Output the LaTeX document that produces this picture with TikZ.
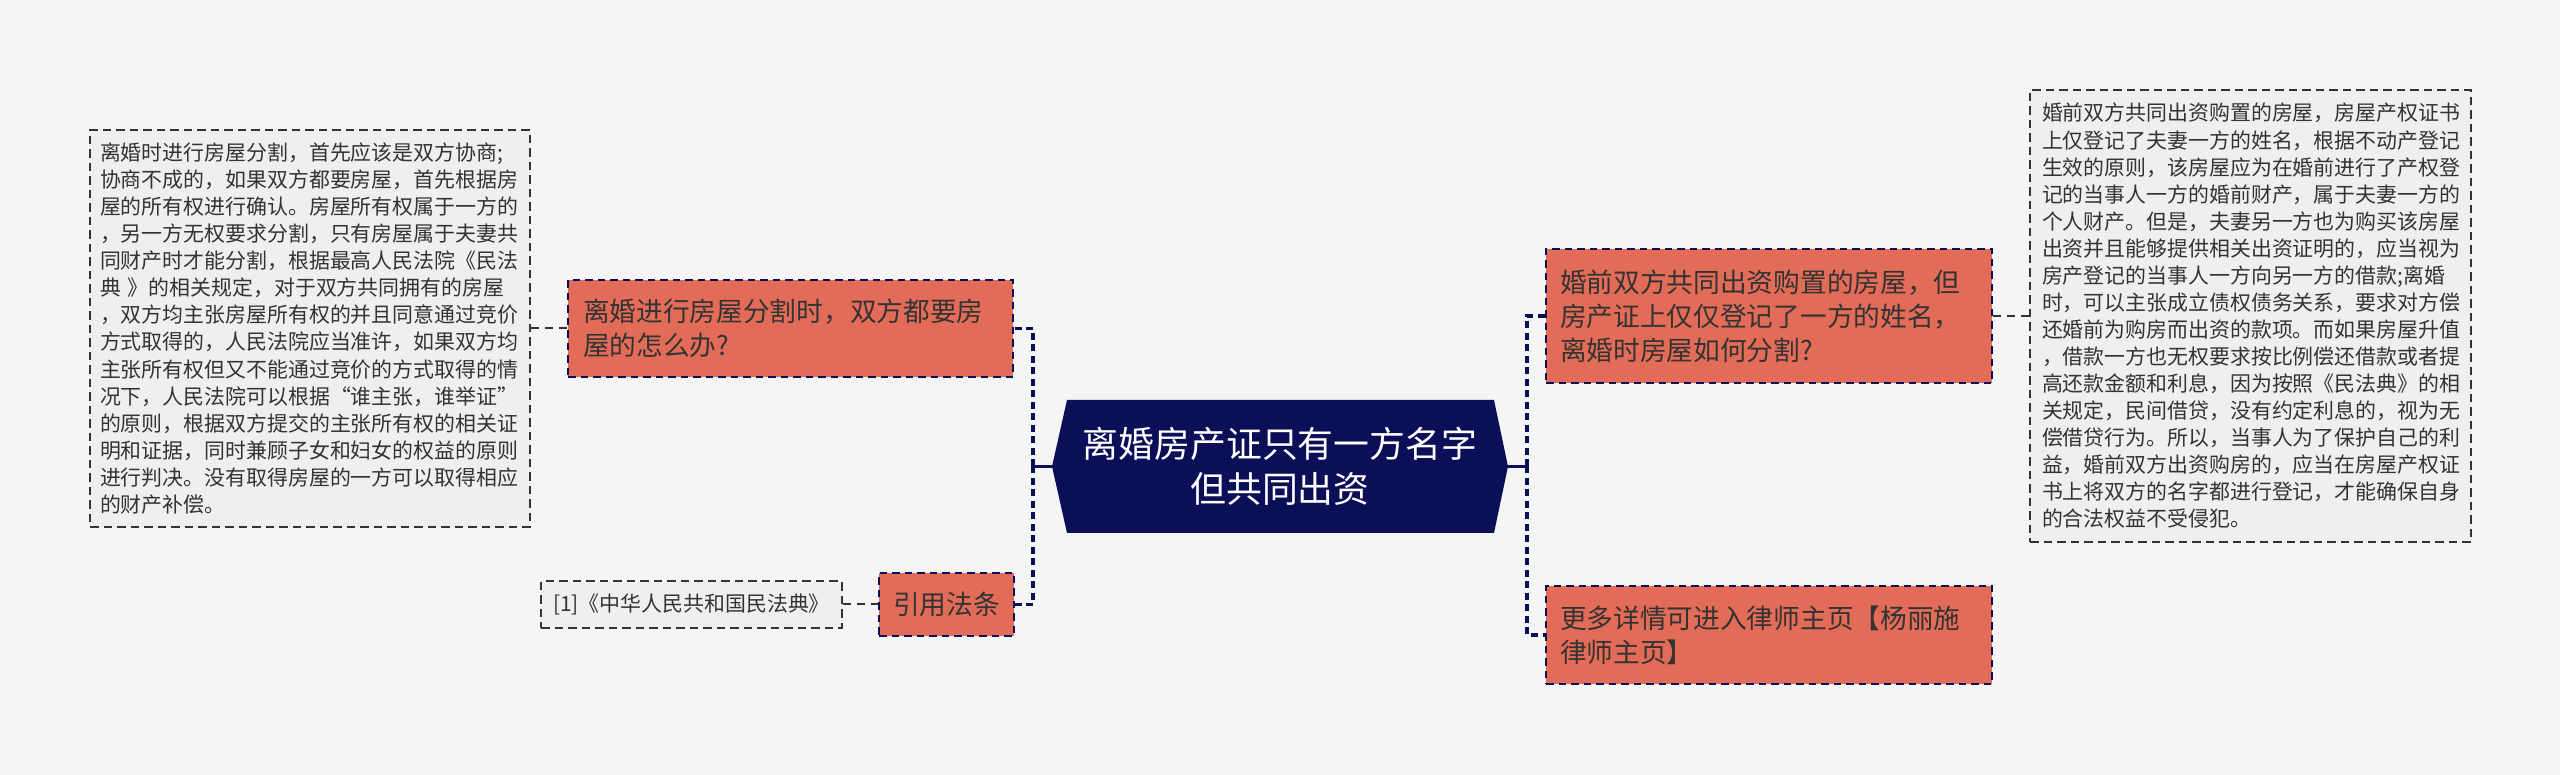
\documentclass[tikz,border=0pt]{standalone}
\usepackage{fontspec}
\newfontfamily\cjk{Noto Sans CJK SC}
\definecolor{bgcol}{HTML}{F5F5F5}
\definecolor{navy}{HTML}{0B0F57}
\definecolor{salmon}{HTML}{E36C58}
\definecolor{notefill}{HTML}{EFEFF1}
\definecolor{ink}{HTML}{333333}

\begin{document}
\begin{tikzpicture}[
    qbox/.style={rectangle, draw=navy, fill=salmon, line width=0.026cm,
      dash pattern=on 0.075cm off 0.05cm, text=ink, align=left,
      font=\cjk\fontsize{7.6pt}{9.7pt}\selectfont},
    notebox/.style={rectangle, draw=ink, fill=notefill, line width=0.02cm,
      dash pattern=on 0.085cm off 0.05cm, text=ink, align=left,
      font=\cjk\fontsize{5.95pt}{7.7pt}\selectfont},
    rootbox/.style={rectangle, fill=bgcol, outer sep=0pt, text=white, align=center,
      font=\cjk\fontsize{10.2pt}{12.8pt}\selectfont,
      path picture={\fill[navy] (path picture bounding box.west)
        -- ([xshift=0.15cm]path picture bounding box.north west)
        -- ([xshift=-0.14cm]path picture bounding box.north east)
        -- (path picture bounding box.east)
        -- ([xshift=-0.14cm]path picture bounding box.south east)
        -- ([xshift=0.15cm]path picture bounding box.south west) -- cycle;}},
    trunk/.style={draw=navy, line width=0.034cm, dash pattern=on 0.07cm off 0.045cm},
    stub/.style={draw=navy, line width=0.034cm},
    leaf/.style={draw=ink, line width=0.02cm, dash pattern=on 0.08cm off 0.06cm}
  ]
  \fill[bgcol] (0,0) rectangle (25.6,7.75);
  \useasboundingbox (0,0) rectangle (25.6,7.75);

  % centre
  \node[rootbox, minimum width=4.56cm, minimum height=1.33cm] (root) at (12.80,3.085)
    {离婚房产证只有一方名字\\但共同出资};
  \coordinate (ljoint) at (10.33,3.085);
  \coordinate (rjoint) at (15.27,3.085);

  % left side
  \node[qbox, text width=4.15cm, inner xsep=0.15cm, minimum height=0.97cm] (lq) at (7.905,4.465)
    {离婚进行房屋分割时，双方都要房\\屋的怎么办?};
  \node[notebox, text width=4.2cm, inner xsep=0.1cm, minimum height=3.97cm] (ltext) at (3.10,4.465)
    {离婚时进行房屋分割，首先应该是双方协商;\\
     协商不成的，如果双方都要房屋，首先根据房\\
     屋的所有权进行确认。房屋所有权属于一方的\\
     ，另一方无权要求分割，只有房屋属于夫妻共\\
     同财产时才能分割，根据最高人民法院《民法\\
     典 》的相关规定，对于双方共同拥有的房屋\\
     ，双方均主张房屋所有权的并且同意通过竞价\\
     方式取得的，人民法院应当准许，如果双方均\\
     主张所有权但又不能通过竞价的方式取得的情\\
     况下，人民法院可以根据“谁主张，谁举证”\\
     的原则，根据双方提交的主张所有权的相关证\\
     明和证据，同时兼顾子女和妇女的权益的原则\\
     进行判决。没有取得房屋的一方可以取得相应\\
     的财产补偿。};
  \node[qbox, minimum width=1.35cm, minimum height=0.63cm] (law) at (9.465,1.705) {引用法条};
  \node[notebox, minimum width=2.99cm, minimum height=0.47cm] (cite) at (6.915,1.705)
    {[1]《中华人民共和国民法典》};

  % right side
  \node[qbox, text width=4.18cm, inner xsep=0.14cm, minimum height=1.34cm] (rq) at (17.69,4.59)
    {婚前双方共同出资购置的房屋，但\\房产证上仅仅登记了一方的姓名，\\离婚时房屋如何分割?};
  \node[notebox, text width=4.17cm, inner xsep=0.12cm, minimum height=4.52cm] (rtext) at (22.505,4.59)
    {婚前双方共同出资购置的房屋，房屋产权证书\\
     上仅登记了夫妻一方的姓名，根据不动产登记\\
     生效的原则，该房屋应为在婚前进行了产权登\\
     记的当事人一方的婚前财产，属于夫妻一方的\\
     个人财产。但是，夫妻另一方也为购买该房屋\\
     出资并且能够提供相关出资证明的，应当视为\\
     房产登记的当事人一方向另一方的借款;离婚\\
     时，可以主张成立债权债务关系，要求对方偿\\
     还婚前为购房而出资的款项。而如果房屋升值\\
     ，借款一方也无权要求按比例偿还借款或者提\\
     高还款金额和利息，因为按照《民法典》的相\\
     关规定，民间借贷，没有约定利息的，视为无\\
     偿借贷行为。所以，当事人为了保护自己的利\\
     益，婚前双方出资购房的，应当在房屋产权证\\
     书上将双方的名字都进行登记，才能确保自身\\
     的合法权益不受侵犯。};
  \node[qbox, text width=4.18cm, inner xsep=0.14cm, minimum height=0.98cm] (more) at (17.69,1.40)
    {更多详情可进入律师主页【杨丽施\\律师主页】};

  % connectors
  \draw[stub] (root.west) -- (ljoint);
  \draw[trunk] (ljoint) |- (lq.east);
  \draw[trunk] (ljoint) |- (law.east);
  \draw[stub] (root.east) -- (rjoint);
  \draw[trunk] (rjoint) |- (rq.west);
  \draw[trunk] (rjoint) |- (more.west);
  \draw[leaf] (ltext.east) -- (lq.west);
  \draw[leaf] (cite.east) -- (law.west);
  \draw[leaf] (rq.east) -- (rtext.west);
\end{tikzpicture}
\end{document}
